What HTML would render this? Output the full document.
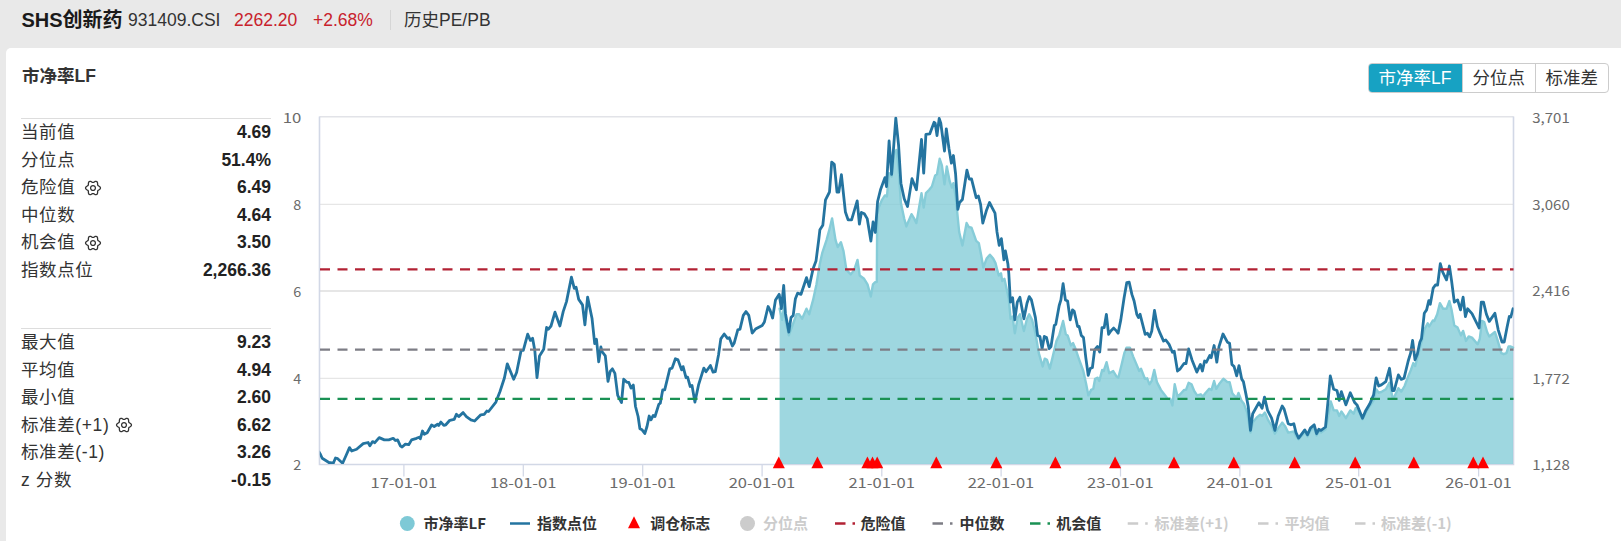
<!DOCTYPE html>
<html><head><meta charset="utf-8">
<style>
*{margin:0;padding:0;box-sizing:border-box}
html,body{width:1621px;height:541px;overflow:hidden;background:#e9e9e9;font-family:"Liberation Sans","Noto Sans CJK SC",sans-serif;color:#333}
.top span{position:absolute;white-space:nowrap;line-height:24px;top:8px}
.t1{left:21.5px;font-size:20px;font-weight:bold;color:#1a1a1a}
.t2{left:128px;font-size:17.5px;color:#333}
.t3{left:234px;font-size:17.5px;color:#c8222c}
.t4{left:313px;font-size:17.5px;color:#c8222c}
.sep{position:absolute;left:390px;top:10px;width:1px;height:20px;background:#d6d6d6}
.t5{left:404px;font-size:17.5px;color:#333}
.panel{position:absolute;left:6px;top:48px;width:1615px;height:493px;background:#fff;border-top-left-radius:5px}
.ptitle{position:absolute;left:22px;top:64px;font-size:17.5px;font-weight:bold;color:#333;line-height:24px;white-space:nowrap}
.tabs{position:absolute;left:1368px;top:63px;height:30px;display:flex;border:1px solid #ccc;border-radius:4px;background:#fff;overflow:hidden}
.tabs div{font-size:17.5px;line-height:28px;text-align:center;color:#333;border-left:1px solid #ccc;white-space:nowrap}
.tabs div.on{background:#17a2c3;color:#fff;border-left:none;margin:-1px 0 -1px -1px;line-height:30px}
.stats{position:absolute;left:21px;width:250px;border-top:1px solid #ddd}
.row{position:relative;height:27.5px;font-size:17.5px;line-height:27.5px;color:#333;white-space:nowrap;letter-spacing:0.6px}
.row b{letter-spacing:0}
.row b{position:absolute;right:0;top:0;font-weight:bold;color:#222}
.row svg{position:absolute;top:5px}
svg text{font-family:"Noto Sans CJK SC","Liberation Sans",sans-serif}
</style></head><body>
<div class="top">
<span class="t1">SHS创新药</span><span class="t2">931409.CSI</span><span class="t3">2262.20</span><span class="t4">+2.68%</span><i class="sep"></i><span class="t5">历史PE/PB</span>
</div>
<div class="panel"></div>
<div class="ptitle">市净率LF</div>
<div class="tabs"><div class="on" style="width:94px">市净率LF</div><div style="width:72.5px">分位点</div><div style="width:73.5px">标准差</div></div>
<div class="stats" style="top:118px">
<div class="row">当前值<b>4.69</b></div>
<div class="row">分位点<b>51.4%</b></div>
<div class="row">危险值<span style="position:absolute;left:62.6px;top:-0.5px"><svg width="18" height="18" viewBox="-9 -9 18 18"><path d="M7.45 0.00 L7.29 0.64 L6.87 1.21 L6.28 1.68 L5.66 2.06 L5.15 2.40 L4.81 2.77 L4.65 3.26 L4.62 3.87 L4.60 4.60 L4.48 5.34 L4.20 6.00 L3.73 6.45 L3.09 6.64 L2.39 6.55 L1.68 6.28 L1.05 5.93 L0.49 5.66 L0.00 5.55 L-0.49 5.66 L-1.05 5.93 L-1.68 6.28 L-2.39 6.55 L-3.09 6.64 L-3.72 6.45 L-4.20 6.00 L-4.48 5.34 L-4.60 4.60 L-4.62 3.87 L-4.65 3.26 L-4.81 2.77 L-5.15 2.40 L-5.66 2.06 L-6.28 1.68 L-6.87 1.21 L-7.29 0.64 L-7.45 0.00 L-7.29 -0.64 L-6.87 -1.21 L-6.28 -1.68 L-5.66 -2.06 L-5.15 -2.40 L-4.81 -2.78 L-4.65 -3.26 L-4.62 -3.87 L-4.60 -4.60 L-4.48 -5.34 L-4.20 -6.00 L-3.73 -6.45 L-3.09 -6.64 L-2.39 -6.55 L-1.68 -6.28 L-1.05 -5.93 L-0.49 -5.66 L-0.00 -5.55 L0.49 -5.66 L1.05 -5.93 L1.68 -6.28 L2.39 -6.55 L3.09 -6.64 L3.73 -6.45 L4.20 -6.00 L4.48 -5.34 L4.60 -4.60 L4.62 -3.87 L4.65 -3.26 L4.81 -2.78 L5.15 -2.40 L5.66 -2.06 L6.28 -1.68 L6.87 -1.21 L7.29 -0.64Z" fill="none" stroke="#333" stroke-width="1.3" stroke-linejoin="round"/><circle r="2.4" fill="none" stroke="#333" stroke-width="1.3"/></svg></span><b>6.49</b></div>
<div class="row">中位数<b>4.64</b></div>
<div class="row">机会值<span style="position:absolute;left:62.6px;top:-0.5px"><svg width="18" height="18" viewBox="-9 -9 18 18"><path d="M7.45 0.00 L7.29 0.64 L6.87 1.21 L6.28 1.68 L5.66 2.06 L5.15 2.40 L4.81 2.77 L4.65 3.26 L4.62 3.87 L4.60 4.60 L4.48 5.34 L4.20 6.00 L3.73 6.45 L3.09 6.64 L2.39 6.55 L1.68 6.28 L1.05 5.93 L0.49 5.66 L0.00 5.55 L-0.49 5.66 L-1.05 5.93 L-1.68 6.28 L-2.39 6.55 L-3.09 6.64 L-3.72 6.45 L-4.20 6.00 L-4.48 5.34 L-4.60 4.60 L-4.62 3.87 L-4.65 3.26 L-4.81 2.77 L-5.15 2.40 L-5.66 2.06 L-6.28 1.68 L-6.87 1.21 L-7.29 0.64 L-7.45 0.00 L-7.29 -0.64 L-6.87 -1.21 L-6.28 -1.68 L-5.66 -2.06 L-5.15 -2.40 L-4.81 -2.78 L-4.65 -3.26 L-4.62 -3.87 L-4.60 -4.60 L-4.48 -5.34 L-4.20 -6.00 L-3.73 -6.45 L-3.09 -6.64 L-2.39 -6.55 L-1.68 -6.28 L-1.05 -5.93 L-0.49 -5.66 L-0.00 -5.55 L0.49 -5.66 L1.05 -5.93 L1.68 -6.28 L2.39 -6.55 L3.09 -6.64 L3.73 -6.45 L4.20 -6.00 L4.48 -5.34 L4.60 -4.60 L4.62 -3.87 L4.65 -3.26 L4.81 -2.78 L5.15 -2.40 L5.66 -2.06 L6.28 -1.68 L6.87 -1.21 L7.29 -0.64Z" fill="none" stroke="#333" stroke-width="1.3" stroke-linejoin="round"/><circle r="2.4" fill="none" stroke="#333" stroke-width="1.3"/></svg></span><b>3.50</b></div>
<div class="row">指数点位<b>2,266.36</b></div>
</div>
<div class="stats" style="top:328px">
<div class="row">最大值<b>9.23</b></div>
<div class="row">平均值<b>4.94</b></div>
<div class="row">最小值<b>2.60</b></div>
<div class="row">标准差(+1)<span style="position:absolute;left:94.1px;top:-0.5px"><svg width="18" height="18" viewBox="-9 -9 18 18"><path d="M7.45 0.00 L7.29 0.64 L6.87 1.21 L6.28 1.68 L5.66 2.06 L5.15 2.40 L4.81 2.77 L4.65 3.26 L4.62 3.87 L4.60 4.60 L4.48 5.34 L4.20 6.00 L3.73 6.45 L3.09 6.64 L2.39 6.55 L1.68 6.28 L1.05 5.93 L0.49 5.66 L0.00 5.55 L-0.49 5.66 L-1.05 5.93 L-1.68 6.28 L-2.39 6.55 L-3.09 6.64 L-3.72 6.45 L-4.20 6.00 L-4.48 5.34 L-4.60 4.60 L-4.62 3.87 L-4.65 3.26 L-4.81 2.77 L-5.15 2.40 L-5.66 2.06 L-6.28 1.68 L-6.87 1.21 L-7.29 0.64 L-7.45 0.00 L-7.29 -0.64 L-6.87 -1.21 L-6.28 -1.68 L-5.66 -2.06 L-5.15 -2.40 L-4.81 -2.78 L-4.65 -3.26 L-4.62 -3.87 L-4.60 -4.60 L-4.48 -5.34 L-4.20 -6.00 L-3.73 -6.45 L-3.09 -6.64 L-2.39 -6.55 L-1.68 -6.28 L-1.05 -5.93 L-0.49 -5.66 L-0.00 -5.55 L0.49 -5.66 L1.05 -5.93 L1.68 -6.28 L2.39 -6.55 L3.09 -6.64 L3.73 -6.45 L4.20 -6.00 L4.48 -5.34 L4.60 -4.60 L4.62 -3.87 L4.65 -3.26 L4.81 -2.78 L5.15 -2.40 L5.66 -2.06 L6.28 -1.68 L6.87 -1.21 L7.29 -0.64Z" fill="none" stroke="#333" stroke-width="1.3" stroke-linejoin="round"/><circle r="2.4" fill="none" stroke="#333" stroke-width="1.3"/></svg></span><b>6.62</b></div>
<div class="row">标准差(-1)<b>3.26</b></div>
<div class="row">z 分数<b>-0.15</b></div>
</div>
<svg id="chart" width="1621" height="541" viewBox="0 0 1621 541" style="position:absolute;left:0;top:0">
<defs><clipPath id="pc"><rect x="319.8" y="116.5" width="1193.7" height="347.6"/></clipPath></defs>
<path d="M319.5 204.4 H1513.5" stroke="#e6e6e6" stroke-width="1.25" fill="none"/>
<path d="M319.5 291.0 H1513.5" stroke="#e6e6e6" stroke-width="2" fill="none"/>
<path d="M319.5 378.4 H1513.5" stroke="#e6e6e6" stroke-width="1.25" fill="none"/>
<path d="M319.5 116.7 H1513.5" stroke="#e2e3e8" stroke-width="1.5" fill="none"/>
<path d="M318.7 464.5 H1514.3 M319.5 116.5 V464.5 M1513.5 116.5 V464.5" stroke="#d2d8e6" stroke-width="1.6" fill="none"/>
<path d="M403.9 464.5 v12M523.3 464.5 v12M642.7 464.5 v12M762.1 464.5 v12M881.8 464.5 v12M1001.1 464.5 v12M1120.5 464.5 v12M1239.9 464.5 v12M1358.7 464.5 v12M1478.6 464.5 v12" stroke="#d2d8e6" stroke-width="1.25" fill="none"/>
<text x="370.5" y="487.9" font-size="13.4" fill="#6b6b6b" textLength="66.6" lengthAdjust="spacingAndGlyphs">17-01-01</text>
<text x="489.9" y="487.9" font-size="13.4" fill="#6b6b6b" textLength="66.6" lengthAdjust="spacingAndGlyphs">18-01-01</text>
<text x="609.3" y="487.9" font-size="13.4" fill="#6b6b6b" textLength="66.6" lengthAdjust="spacingAndGlyphs">19-01-01</text>
<text x="728.7" y="487.9" font-size="13.4" fill="#6b6b6b" textLength="66.6" lengthAdjust="spacingAndGlyphs">20-01-01</text>
<text x="848.4" y="487.9" font-size="13.4" fill="#6b6b6b" textLength="66.6" lengthAdjust="spacingAndGlyphs">21-01-01</text>
<text x="967.7" y="487.9" font-size="13.4" fill="#6b6b6b" textLength="66.6" lengthAdjust="spacingAndGlyphs">22-01-01</text>
<text x="1087.1" y="487.9" font-size="13.4" fill="#6b6b6b" textLength="66.6" lengthAdjust="spacingAndGlyphs">23-01-01</text>
<text x="1206.5" y="487.9" font-size="13.4" fill="#6b6b6b" textLength="66.6" lengthAdjust="spacingAndGlyphs">24-01-01</text>
<text x="1325.3" y="487.9" font-size="13.4" fill="#6b6b6b" textLength="66.6" lengthAdjust="spacingAndGlyphs">25-01-01</text>
<text x="1445.2" y="487.9" font-size="13.4" fill="#6b6b6b" textLength="66.6" lengthAdjust="spacingAndGlyphs">26-01-01</text>
<text x="282.7" y="122.9" font-size="13.4" fill="#6b6b6b" textLength="18.6" lengthAdjust="spacingAndGlyphs">10</text>
<text x="293.3" y="209.9" font-size="13.4" fill="#6b6b6b" textLength="8.0" lengthAdjust="spacingAndGlyphs">8</text>
<text x="293.3" y="296.9" font-size="13.4" fill="#6b6b6b" textLength="8.0" lengthAdjust="spacingAndGlyphs">6</text>
<text x="293.3" y="383.9" font-size="13.4" fill="#6b6b6b" textLength="8.0" lengthAdjust="spacingAndGlyphs">4</text>
<text x="293.3" y="469.9" font-size="13.4" fill="#6b6b6b" textLength="8.0" lengthAdjust="spacingAndGlyphs">2</text>
<text x="1532.3" y="122.9" font-size="13.4" fill="#6b6b6b" textLength="37.4" lengthAdjust="spacingAndGlyphs">3,701</text>
<text x="1532.3" y="209.9" font-size="13.4" fill="#6b6b6b" textLength="37.4" lengthAdjust="spacingAndGlyphs">3,060</text>
<text x="1532.3" y="295.9" font-size="13.4" fill="#6b6b6b" textLength="37.4" lengthAdjust="spacingAndGlyphs">2,416</text>
<text x="1532.3" y="383.9" font-size="13.4" fill="#6b6b6b" textLength="37.4" lengthAdjust="spacingAndGlyphs">1,772</text>
<text x="1532.3" y="469.9" font-size="13.4" fill="#6b6b6b" textLength="37.4" lengthAdjust="spacingAndGlyphs">1,128</text>
<path d="M779.6 308.7 L782.1 319.8 L784.3 305.0 L785.4 319.8 L788.8 335.3 L792.1 326.5 L796.5 314.3 L799.2 314.3 L802.1 318.7 L806.5 308.7 L809.2 314.3 L813.1 299.9 L816.5 284.3 L819.8 264.0 L822.2 253.2 L826.6 239.9 L829.5 229.0 L832.1 218.4 L835.5 239.9 L837.7 247.0 L840.9 242.2 L843.5 251.1 L846.4 269.9 L850.8 274.4 L854.2 269.9 L857.5 260.0 L859.7 275.5 L864.1 278.8 L867.5 284.3 L870.8 296.5 L873.0 284.3 L875.2 282.1 L876.8 282.0 L877.2 215.0 L878.7 207.6 L882.0 199.8 L884.9 195.4 L886.9 196.5 L889.1 173.2 L891.6 176.5 L894.2 153.2 L896.4 149.9 L898.6 167.6 L900.9 203.1 L904.2 218.6 L906.4 226.4 L908.6 220.9 L911.5 214.2 L914.2 218.6 L916.4 223.1 L921.5 193.1 L923.7 207.6 L925.9 193.1 L929.2 189.8 L931.9 186.5 L935.2 175.4 L937.0 174.3 L939.7 158.8 L941.9 165.4 L944.5 184.3 L946.8 166.5 L949.6 181.0 L951.9 187.6 L953.4 183.2 L955.6 196.0 L957.0 210.0 L959.2 232.0 L962.4 245.5 L966.6 223.0 L968.8 227.0 L971.5 227.6 L976.2 240.9 L978.8 243.1 L981.0 254.2 L983.3 267.5 L986.6 258.6 L989.9 254.7 L993.2 258.6 L995.5 263.1 L997.2 269.7 L998.8 275.5 L1001.0 273.3 L1002.2 281.0 L1004.4 278.8 L1006.6 288.8 L1008.8 298.8 L1010.6 318.8 L1012.6 316.5 L1014.8 333.2 L1017.7 317.6 L1019.9 314.3 L1023.9 331.0 L1027.0 318.8 L1029.2 314.3 L1032.1 319.9 L1035.4 333.2 L1038.8 353.1 L1042.7 366.4 L1044.7 358.7 L1047.0 359.8 L1049.8 368.6 L1052.5 357.6 L1056.5 340.9 L1059.2 335.4 L1063.1 321.0 L1065.8 334.3 L1067.6 335.4 L1070.9 345.4 L1073.1 343.1 L1075.5 348.8 L1078.9 358.8 L1083.3 371.0 L1086.0 383.2 L1088.4 395.4 L1091.1 389.9 L1093.3 388.8 L1095.1 378.8 L1097.7 377.7 L1099.3 381.0 L1102.2 369.9 L1103.7 371.0 L1106.6 362.2 L1109.2 373.2 L1113.2 371.0 L1116.6 376.6 L1118.3 377.7 L1121.4 365.5 L1124.3 353.3 L1126.5 347.7 L1129.9 347.7 L1133.2 356.6 L1136.5 364.4 L1139.2 371.0 L1141.0 368.8 L1144.9 378.8 L1147.2 378.3 L1149.4 384.3 L1151.6 381.0 L1154.3 369.9 L1156.9 382.1 L1160.9 389.9 L1164.2 394.3 L1167.6 398.7 L1170.2 398.7 L1172.4 405.4 L1174.7 384.3 L1177.5 396.5 L1180.2 394.3 L1184.2 389.9 L1186.0 389.9 L1188.6 382.8 L1191.5 384.3 L1194.2 391.0 L1197.1 395.4 L1200.8 394.3 L1203.0 396.5 L1205.3 393.2 L1209.2 388.8 L1211.5 389.9 L1214.1 381.0 L1216.3 388.8 L1219.0 384.3 L1223.4 378.8 L1227.4 382.1 L1229.6 382.1 L1232.3 393.2 L1234.1 395.4 L1236.7 398.0 L1238.5 392.9 L1241.5 400.7 L1243.9 403.8 L1247.2 412.6 L1250.5 432.6 L1252.7 422.6 L1257.2 417.1 L1260.1 414.8 L1262.1 416.0 L1264.9 412.6 L1268.3 420.4 L1271.6 425.9 L1274.9 433.7 L1278.2 428.1 L1282.2 422.6 L1284.9 425.9 L1288.2 432.6 L1293.8 431.5 L1296.0 435.9 L1298.6 439.2 L1301.1 436.5 L1304.8 432.0 L1307.5 436.5 L1310.4 430.5 L1314.2 427.5 L1316.6 435.5 L1318.8 431.5 L1321.0 432.5 L1325.5 429.3 L1328.1 416.0 L1330.8 401.5 L1333.7 410.4 L1337.0 410.4 L1339.2 416.0 L1341.4 411.5 L1345.9 418.2 L1350.3 410.4 L1353.6 413.7 L1355.8 408.0 L1358.0 410.0 L1362.5 419.3 L1365.8 412.6 L1369.8 406.0 L1373.6 400.4 L1376.2 389.3 L1378.7 392.7 L1381.3 392.0 L1385.8 389.3 L1389.5 382.7 L1392.4 397.1 L1394.2 397.1 L1398.4 388.2 L1401.3 391.6 L1404.6 386.0 L1407.9 377.1 L1411.0 369.7 L1413.3 363.1 L1415.2 366.0 L1417.3 358.0 L1419.9 347.6 L1422.1 339.8 L1424.3 329.8 L1427.7 323.2 L1429.2 326.5 L1432.8 320.5 L1434.3 321.0 L1437.2 314.3 L1439.9 303.2 L1443.2 308.8 L1446.5 308.8 L1449.4 301.0 L1451.6 309.9 L1454.3 325.4 L1457.6 327.6 L1460.9 335.4 L1463.1 330.9 L1466.0 340.9 L1468.7 336.5 L1472.0 337.6 L1477.6 344.2 L1479.8 338.7 L1482.0 320.9 L1484.2 322.0 L1487.1 332.0 L1489.3 336.5 L1494.9 332.0 L1497.5 339.8 L1501.3 353.1 L1503.7 354.2 L1506.4 353.1 L1508.6 346.5 L1510.8 346.5 L1513.0 347.6 L1513.0 464.0 L779.6 464.0 Z" fill="#7ec9d6" fill-opacity="0.75" stroke="none"/>
<path d="M779.6 308.7 L782.1 319.8 L784.3 305.0 L785.4 319.8 L788.8 335.3 L792.1 326.5 L796.5 314.3 L799.2 314.3 L802.1 318.7 L806.5 308.7 L809.2 314.3 L813.1 299.9 L816.5 284.3 L819.8 264.0 L822.2 253.2 L826.6 239.9 L829.5 229.0 L832.1 218.4 L835.5 239.9 L837.7 247.0 L840.9 242.2 L843.5 251.1 L846.4 269.9 L850.8 274.4 L854.2 269.9 L857.5 260.0 L859.7 275.5 L864.1 278.8 L867.5 284.3 L870.8 296.5 L873.0 284.3 L875.2 282.1 L876.8 282.0 L877.2 215.0 L878.7 207.6 L882.0 199.8 L884.9 195.4 L886.9 196.5 L889.1 173.2 L891.6 176.5 L894.2 153.2 L896.4 149.9 L898.6 167.6 L900.9 203.1 L904.2 218.6 L906.4 226.4 L908.6 220.9 L911.5 214.2 L914.2 218.6 L916.4 223.1 L921.5 193.1 L923.7 207.6 L925.9 193.1 L929.2 189.8 L931.9 186.5 L935.2 175.4 L937.0 174.3 L939.7 158.8 L941.9 165.4 L944.5 184.3 L946.8 166.5 L949.6 181.0 L951.9 187.6 L953.4 183.2 L955.6 196.0 L957.0 210.0 L959.2 232.0 L962.4 245.5 L966.6 223.0 L968.8 227.0 L971.5 227.6 L976.2 240.9 L978.8 243.1 L981.0 254.2 L983.3 267.5 L986.6 258.6 L989.9 254.7 L993.2 258.6 L995.5 263.1 L997.2 269.7 L998.8 275.5 L1001.0 273.3 L1002.2 281.0 L1004.4 278.8 L1006.6 288.8 L1008.8 298.8 L1010.6 318.8 L1012.6 316.5 L1014.8 333.2 L1017.7 317.6 L1019.9 314.3 L1023.9 331.0 L1027.0 318.8 L1029.2 314.3 L1032.1 319.9 L1035.4 333.2 L1038.8 353.1 L1042.7 366.4 L1044.7 358.7 L1047.0 359.8 L1049.8 368.6 L1052.5 357.6 L1056.5 340.9 L1059.2 335.4 L1063.1 321.0 L1065.8 334.3 L1067.6 335.4 L1070.9 345.4 L1073.1 343.1 L1075.5 348.8 L1078.9 358.8 L1083.3 371.0 L1086.0 383.2 L1088.4 395.4 L1091.1 389.9 L1093.3 388.8 L1095.1 378.8 L1097.7 377.7 L1099.3 381.0 L1102.2 369.9 L1103.7 371.0 L1106.6 362.2 L1109.2 373.2 L1113.2 371.0 L1116.6 376.6 L1118.3 377.7 L1121.4 365.5 L1124.3 353.3 L1126.5 347.7 L1129.9 347.7 L1133.2 356.6 L1136.5 364.4 L1139.2 371.0 L1141.0 368.8 L1144.9 378.8 L1147.2 378.3 L1149.4 384.3 L1151.6 381.0 L1154.3 369.9 L1156.9 382.1 L1160.9 389.9 L1164.2 394.3 L1167.6 398.7 L1170.2 398.7 L1172.4 405.4 L1174.7 384.3 L1177.5 396.5 L1180.2 394.3 L1184.2 389.9 L1186.0 389.9 L1188.6 382.8 L1191.5 384.3 L1194.2 391.0 L1197.1 395.4 L1200.8 394.3 L1203.0 396.5 L1205.3 393.2 L1209.2 388.8 L1211.5 389.9 L1214.1 381.0 L1216.3 388.8 L1219.0 384.3 L1223.4 378.8 L1227.4 382.1 L1229.6 382.1 L1232.3 393.2 L1234.1 395.4 L1236.7 398.0 L1238.5 392.9 L1241.5 400.7 L1243.9 403.8 L1247.2 412.6 L1250.5 432.6 L1252.7 422.6 L1257.2 417.1 L1260.1 414.8 L1262.1 416.0 L1264.9 412.6 L1268.3 420.4 L1271.6 425.9 L1274.9 433.7 L1278.2 428.1 L1282.2 422.6 L1284.9 425.9 L1288.2 432.6 L1293.8 431.5 L1296.0 435.9 L1298.6 439.2 L1301.1 436.5 L1304.8 432.0 L1307.5 436.5 L1310.4 430.5 L1314.2 427.5 L1316.6 435.5 L1318.8 431.5 L1321.0 432.5 L1325.5 429.3 L1328.1 416.0 L1330.8 401.5 L1333.7 410.4 L1337.0 410.4 L1339.2 416.0 L1341.4 411.5 L1345.9 418.2 L1350.3 410.4 L1353.6 413.7 L1355.8 408.0 L1358.0 410.0 L1362.5 419.3 L1365.8 412.6 L1369.8 406.0 L1373.6 400.4 L1376.2 389.3 L1378.7 392.7 L1381.3 392.0 L1385.8 389.3 L1389.5 382.7 L1392.4 397.1 L1394.2 397.1 L1398.4 388.2 L1401.3 391.6 L1404.6 386.0 L1407.9 377.1 L1411.0 369.7 L1413.3 363.1 L1415.2 366.0 L1417.3 358.0 L1419.9 347.6 L1422.1 339.8 L1424.3 329.8 L1427.7 323.2 L1429.2 326.5 L1432.8 320.5 L1434.3 321.0 L1437.2 314.3 L1439.9 303.2 L1443.2 308.8 L1446.5 308.8 L1449.4 301.0 L1451.6 309.9 L1454.3 325.4 L1457.6 327.6 L1460.9 335.4 L1463.1 330.9 L1466.0 340.9 L1468.7 336.5 L1472.0 337.6 L1477.6 344.2 L1479.8 338.7 L1482.0 320.9 L1484.2 322.0 L1487.1 332.0 L1489.3 336.5 L1494.9 332.0 L1497.5 339.8 L1501.3 353.1 L1503.7 354.2 L1506.4 353.1 L1508.6 346.5 L1510.8 346.5 L1513.0 347.6" fill="none" stroke="#86ccd8" stroke-width="2.4" stroke-linejoin="round" stroke-linecap="round"/>
<path clip-path="url(#pc)" d="M319.0 452.0 L320.5 454.5 L322.2 458.3 L328.9 462.5 L333.3 463.2 L335.5 458.0 L337.7 458.7 L342.6 463.2 L346.6 454.3 L349.5 447.6 L351.7 451.0 L356.6 449.2 L363.2 443.6 L368.1 442.5 L369.9 445.8 L372.6 441.6 L374.8 442.7 L379.2 437.6 L384.3 439.9 L388.8 439.9 L393.2 438.3 L395.4 440.5 L397.6 439.9 L400.5 446.1 L402.1 447.0 L405.4 444.1 L408.7 444.7 L411.6 439.9 L416.5 438.3 L419.2 437.2 L420.3 438.8 L422.5 431.0 L424.3 434.3 L427.2 432.8 L431.6 425.0 L434.2 426.5 L437.6 424.3 L438.7 425.4 L440.9 422.1 L443.8 425.4 L445.8 424.8 L449.8 420.3 L454.2 419.4 L456.4 414.3 L458.7 416.6 L463.1 412.6 L466.4 416.6 L470.9 419.9 L474.6 421.0 L480.8 414.8 L484.2 414.3 L486.8 411.0 L488.6 411.5 L495.9 402.1 L500.0 391.5 L504.4 378.0 L507.3 363.9 L513.7 379.2 L516.6 372.5 L521.1 350.4 L523.3 350.4 L527.7 334.2 L530.4 340.4 L532.6 338.2 L534.8 350.4 L537.0 377.6 L539.5 355.9 L543.7 349.3 L546.6 327.5 L548.3 329.3 L551.0 326.0 L555.0 312.2 L559.9 326.0 L563.2 311.6 L566.5 301.6 L571.4 277.2 L574.3 288.3 L576.1 287.2 L578.7 299.4 L582.5 304.9 L584.9 324.9 L587.6 297.1 L592.0 318.2 L594.7 343.7 L596.5 339.3 L598.7 361.9 L600.9 347.0 L602.0 351.5 L605.3 355.9 L608.0 381.4 L610.2 371.4 L612.4 368.8 L614.9 373.4 L617.7 395.4 L621.5 402.5 L623.7 379.2 L626.6 382.1 L628.8 382.5 L631.0 388.1 L633.3 385.0 L635.5 406.5 L638.1 416.5 L639.9 428.7 L642.1 429.8 L644.8 433.5 L647.0 426.5 L649.2 416.0 L651.0 419.8 L653.2 415.4 L655.0 416.5 L658.8 404.3 L660.3 403.2 L662.7 389.9 L664.7 389.9 L669.8 368.8 L672.1 368.1 L675.4 358.8 L678.0 359.9 L681.6 369.9 L683.1 366.6 L686.0 377.7 L687.6 377.2 L690.2 386.5 L692.0 385.4 L694.9 402.1 L698.7 384.3 L703.8 368.1 L706.0 371.7 L710.4 365.5 L713.1 372.1 L715.3 371.7 L718.6 354.4 L720.8 338.9 L724.2 334.0 L727.5 338.4 L729.3 337.8 L732.4 346.0 L734.1 343.3 L737.8 329.8 L740.0 329.1 L743.3 315.4 L746.0 311.6 L748.8 315.4 L752.2 333.1 L755.5 329.1 L762.2 325.4 L764.4 322.0 L768.1 306.5 L769.9 309.8 L772.6 318.0 L775.5 299.9 L779.2 294.3 L781.4 308.7 L783.7 285.5 L785.4 313.2 L788.8 332.0 L791.0 317.6 L793.2 315.4 L795.4 298.8 L797.6 293.2 L801.0 294.3 L806.5 277.7 L809.2 286.6 L813.1 268.8 L816.0 261.1 L818.7 240.0 L819.9 229.7 L822.8 225.3 L825.5 199.8 L829.5 192.0 L831.7 162.1 L834.3 164.3 L837.0 192.0 L838.8 192.0 L841.4 174.7 L845.4 212.0 L848.1 219.8 L851.6 219.8 L857.2 200.9 L859.4 224.2 L861.4 212.4 L864.3 213.8 L867.2 218.6 L870.9 241.0 L873.1 222.0 L875.3 232.5 L877.6 201.5 L880.5 189.8 L884.9 177.6 L886.5 186.5 L889.1 141.0 L891.6 174.3 L895.8 118.2 L898.6 145.5 L900.9 183.2 L904.2 198.7 L907.5 206.5 L912.0 178.7 L916.4 189.8 L921.5 139.3 L923.7 173.2 L925.9 134.4 L929.7 133.9 L934.1 122.2 L935.2 123.3 L937.0 135.5 L939.2 118.4 L940.8 123.3 L944.5 151.0 L946.3 128.8 L949.0 148.8 L951.4 163.2 L953.4 155.5 L955.6 174.0 L957.8 209.3 L959.6 202.5 L962.4 199.5 L966.9 170.2 L969.2 179.0 L971.5 178.8 L976.2 197.7 L978.4 196.1 L980.6 204.3 L982.8 223.2 L986.6 209.9 L989.5 202.5 L992.1 207.6 L995.0 213.2 L997.0 232.0 L999.2 245.3 L1001.4 238.7 L1003.9 259.8 L1005.4 250.9 L1007.9 264.0 L1008.8 273.3 L1010.4 302.1 L1012.6 297.7 L1014.8 319.9 L1017.3 302.1 L1019.9 297.3 L1023.9 318.8 L1027.0 303.2 L1029.2 296.6 L1031.4 299.9 L1035.4 317.6 L1037.6 335.4 L1039.9 336.5 L1042.1 348.7 L1044.3 336.5 L1046.5 337.6 L1049.2 348.7 L1051.0 346.5 L1054.3 325.4 L1055.8 324.3 L1059.2 305.5 L1060.9 299.9 L1063.1 283.7 L1065.4 299.9 L1067.6 301.0 L1070.2 319.9 L1072.5 309.9 L1074.2 311.4 L1077.6 326.5 L1079.1 326.5 L1081.3 335.4 L1083.5 337.6 L1085.8 357.6 L1088.2 375.3 L1090.2 368.6 L1092.4 367.5 L1094.6 349.8 L1097.5 346.5 L1099.7 352.0 L1102.0 327.6 L1104.2 327.6 L1106.4 314.3 L1108.6 334.3 L1110.8 330.9 L1113.7 328.1 L1116.4 330.9 L1118.1 333.2 L1120.8 319.9 L1124.1 297.7 L1126.8 282.6 L1129.2 282.2 L1131.9 294.4 L1134.1 301.0 L1136.8 314.3 L1138.5 317.6 L1140.1 314.3 L1145.2 334.3 L1147.4 333.2 L1149.6 336.9 L1151.8 330.9 L1154.5 310.5 L1157.4 326.5 L1160.0 333.2 L1163.6 341.1 L1165.8 340.0 L1169.1 344.4 L1172.4 352.2 L1174.2 351.1 L1177.5 371.0 L1180.2 368.8 L1184.2 363.3 L1186.0 363.7 L1188.6 348.8 L1192.0 359.9 L1196.8 372.1 L1200.4 364.4 L1202.4 371.0 L1204.6 361.0 L1206.4 362.2 L1209.7 355.5 L1211.2 357.7 L1214.1 345.5 L1216.8 362.2 L1219.0 346.6 L1223.0 334.0 L1227.4 342.2 L1229.6 343.3 L1231.9 364.4 L1234.1 366.6 L1236.7 375.8 L1239.0 365.6 L1241.7 379.1 L1243.4 381.6 L1246.1 394.9 L1248.3 407.1 L1250.5 430.4 L1252.7 413.7 L1258.9 402.6 L1262.1 408.2 L1264.5 397.1 L1267.6 410.4 L1271.6 418.2 L1274.9 430.4 L1278.2 416.0 L1282.2 406.0 L1284.2 409.3 L1288.2 423.7 L1290.9 424.8 L1293.8 423.7 L1296.0 432.6 L1298.6 438.1 L1301.1 434.8 L1304.8 429.9 L1307.5 434.8 L1310.4 428.1 L1314.2 424.8 L1316.6 433.7 L1318.8 429.3 L1321.0 430.4 L1325.5 427.0 L1328.1 400.4 L1330.3 376.0 L1333.7 389.3 L1337.0 390.5 L1339.2 400.4 L1341.4 391.6 L1345.9 404.9 L1350.3 392.7 L1354.7 402.6 L1357.0 404.9 L1362.5 418.2 L1365.8 410.4 L1369.8 403.8 L1373.6 394.9 L1376.2 377.8 L1378.7 386.0 L1381.3 384.9 L1385.8 381.6 L1389.5 368.3 L1392.4 390.5 L1394.2 390.5 L1398.4 374.9 L1401.3 379.4 L1404.0 378.3 L1408.2 361.0 L1410.6 353.1 L1412.6 340.5 L1415.0 359.8 L1417.3 354.2 L1419.9 342.0 L1421.5 338.7 L1424.3 313.2 L1426.6 309.9 L1428.8 300.6 L1430.3 304.3 L1433.2 288.1 L1435.4 285.0 L1437.6 285.0 L1440.3 263.7 L1442.7 272.2 L1446.5 279.9 L1449.4 266.0 L1451.6 281.0 L1454.3 302.1 L1457.6 299.9 L1460.5 309.9 L1463.1 297.2 L1465.4 316.5 L1467.6 308.8 L1472.0 313.6 L1479.1 328.0 L1481.3 302.1 L1483.5 302.1 L1486.4 314.3 L1489.3 321.4 L1494.9 313.2 L1498.2 329.8 L1502.0 342.0 L1504.2 342.0 L1507.0 327.6 L1509.3 316.5 L1510.8 317.0 L1513.0 308.8" fill="none" stroke="#2474a0" stroke-width="2.8" stroke-linejoin="round" stroke-linecap="round"/>
<path d="M320.0 269.4 H1513.5" stroke="#b22234" stroke-width="2.3" stroke-dasharray="10 7.5" fill="none"/>
<path d="M320.0 349.6 H1513.5" stroke="#7d7d85" stroke-width="2.3" stroke-dasharray="10 7.5" fill="none"/>
<path d="M320.0 398.9 H1513.5" stroke="#1a9154" stroke-width="2.3" stroke-dasharray="10 7.5" fill="none"/>
<path d="M778.8 456.5 l6 11.8 h-12 z" fill="#f00"/>
<path d="M817.4 456.5 l6 11.8 h-12 z" fill="#f00"/>
<path d="M867.4 456.5 l6 11.8 h-12 z" fill="#f00"/>
<path d="M872.5 456.5 l6 11.8 h-12 z" fill="#f00"/>
<path d="M877.2 456.5 l6 11.8 h-12 z" fill="#f00"/>
<path d="M936.3 456.5 l6 11.8 h-12 z" fill="#f00"/>
<path d="M996.3 456.5 l6 11.8 h-12 z" fill="#f00"/>
<path d="M1055.4 456.5 l6 11.8 h-12 z" fill="#f00"/>
<path d="M1115.1 456.5 l6 11.8 h-12 z" fill="#f00"/>
<path d="M1174.0 456.5 l6 11.8 h-12 z" fill="#f00"/>
<path d="M1233.8 456.5 l6 11.8 h-12 z" fill="#f00"/>
<path d="M1294.7 456.5 l6 11.8 h-12 z" fill="#f00"/>
<path d="M1355.2 456.5 l6 11.8 h-12 z" fill="#f00"/>
<path d="M1413.8 456.5 l6 11.8 h-12 z" fill="#f00"/>
<path d="M1473.3 456.5 l6 11.8 h-12 z" fill="#f00"/>
<path d="M1483.0 456.5 l6 11.8 h-12 z" fill="#f00"/>
<circle cx="407.3" cy="523.5" r="7.4" fill="#7ec9d6"/>
<text x="423.6" y="529.0" font-size="15" font-weight="bold" fill="#333">市净率LF</text>
<path d="M510 523.5 h20" stroke="#2474a0" stroke-width="2.5"/>
<text x="536.9" y="529.0" font-size="15" font-weight="bold" fill="#333">指数点位</text>
<path d="M634 516.3 l6 11.9 h-12 z" fill="#f00"/>
<text x="650.3" y="529.0" font-size="15" font-weight="bold" fill="#333">调仓标志</text>
<circle cx="747.5" cy="523.5" r="7.5" fill="#ccc"/>
<text x="762.9" y="529.0" font-size="15" font-weight="bold" fill="#ccc">分位点</text>
<path d="M835 523.5 h10.5 M852.5 523.5 h2.5" stroke="#b22234" stroke-width="2.6"/>
<text x="860.6" y="529.0" font-size="15" font-weight="bold" fill="#333">危险值</text>
<path d="M932.5 523.5 h10.5 M950.0 523.5 h2.5" stroke="#7d7d85" stroke-width="2.6"/>
<text x="959.6" y="529.0" font-size="15" font-weight="bold" fill="#333">中位数</text>
<path d="M1030 523.5 h10.5 M1047.5 523.5 h2.5" stroke="#1a9154" stroke-width="2.6"/>
<text x="1056.3" y="529.0" font-size="15" font-weight="bold" fill="#333">机会值</text>
<path d="M1127.7 523.5 h10.5 M1145.2 523.5 h2.5" stroke="#ccc" stroke-width="2.6"/>
<text x="1154.6" y="529.0" font-size="15" font-weight="bold" fill="#ccc">标准差(+1)</text>
<path d="M1258 523.5 h10.5 M1275.5 523.5 h2.5" stroke="#ccc" stroke-width="2.6"/>
<text x="1284.6" y="529.0" font-size="15" font-weight="bold" fill="#ccc">平均值</text>
<path d="M1355 523.5 h10.5 M1372.5 523.5 h2.5" stroke="#ccc" stroke-width="2.6"/>
<text x="1381.0" y="529.0" font-size="15" font-weight="bold" fill="#ccc">标准差(-1)</text>
</svg>
</body></html>
